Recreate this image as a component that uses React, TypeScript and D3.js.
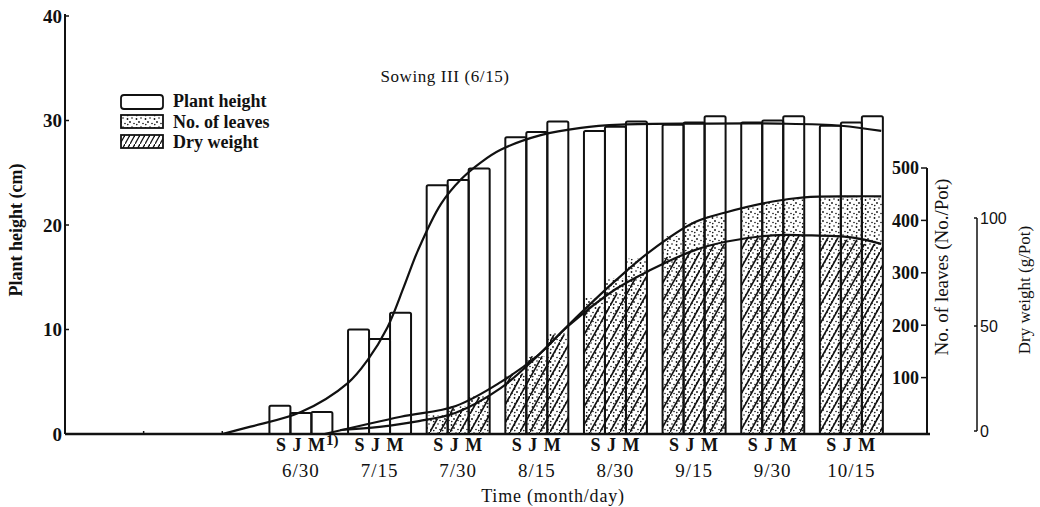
import React from 'react';
import * as d3 from 'd3';

const dates = ['6/30', '7/15', '7/30', '8/15', '8/30', '9/15', '9/30', '10/15'];
const cultivars = ['S', 'J', 'M'];

// plant height (cm) per cultivar, one value per date
const heightS = [2.7, 10.0, 23.8, 28.4, 29.0, 29.6, 29.8, 29.5];
const heightJ = [2.0, 9.1, 24.3, 28.9, 29.4, 29.8, 30.0, 29.8];
const heightM = [2.1, 11.6, 25.4, 29.9, 29.9, 30.4, 30.4, 30.4];

// no. of leaves (No./Pot)
const leavesS = [0, 0, 28, 105, 252, 370, 425, 446];
const leavesJ = [0, 0, 45, 140, 290, 396, 434, 447];
const leavesM = [0, 0, 66, 185, 327, 408, 440, 446];

// dry weight (g/Pot)
const dryS = [0, 0, 7, 28, 59, 82, 91, 91];
const dryJ = [0, 0, 12, 36, 65, 85, 92, 90];
const dryM = [0, 0, 17, 46, 73, 88, 92, 88];

// fitted curves; t counts sampling periods from 6/30 (-1 = sowing 6/15)
const heightFitT = [-1, -0.64, 0, 0.6, 0.85, 1.1, 1.31, 1.49, 1.78, 2.04, 2.29, 2.54, 3.05, 3.56, 4.07, 5.09, 6.1, 6.87, 7.38];
const heightFitV = [0, 0.7, 2.1, 4.9, 7.1, 10.2, 14.1, 17.6, 22.0, 24.4, 26.0, 27.2, 28.6, 29.3, 29.6, 29.7, 29.7, 29.5, 29.0];
const leavesFitT = [0.5, 1.0, 1.5, 1.97, 2.54, 3.0, 3.4, 4.0, 4.45, 5.0, 5.4, 6.0, 6.4, 7.0, 7.38];
const leavesFitV = [0, 6, 17, 33, 80, 140, 200, 285, 342, 396, 415, 436, 444, 446, 446];
const dryFitT = [0.3, 1.27, 1.97, 2.54, 3.0, 3.4, 4.0, 4.45, 5.0, 5.4, 6.0, 6.4, 7.0, 7.38];
const dryFitV = [0, 8, 13, 24, 36, 50, 67, 76, 85, 89, 92, 92, 91, 88];

const yTicks = [0, 10, 20, 30, 40];
const leafTicks = [100, 200, 300, 400, 500];
const dryTicks = [0, 50, 100];

const W = 1040;
const H = 507;
const serif = '"Liberation Serif", "DejaVu Serif", serif';
const sans = '"Liberation Sans Narrow", "Liberation Sans", Arial, sans-serif';

export default function App() {
  const x = d3.scaleLinear().domain([-3, 8]).range([65, 930]);
  const yH = d3.scaleLinear().domain([0, 40]).range([434, 16]);
  const yL = d3.scaleLinear().domain([0, 500]).range([430, 168]);
  const yD = d3.scaleLinear().domain([0, 100]).range([434, 218]);
  const sub = d3.scaleBand().domain(cultivars).range([-31.5, 31.5]);
  const bw = sub.bandwidth();
  const base = 434;

  const heights = [heightS, heightJ, heightM];
  const leaves = [leavesS, leavesJ, leavesM];
  const drys = [dryS, dryJ, dryM];

  const bars: { x: number; h: number; l: number; d: number }[] = [];
  dates.forEach((_, gi) => {
    cultivars.forEach((c, ci) => {
      bars.push({ x: x(gi) + (sub(c) as number), h: heights[ci][gi], l: leaves[ci][gi], d: drys[ci][gi] });
    });
  });

  const mkLine = (T: number[], y: d3.ScaleLinear<number, number>) =>
    d3.line<number>()
      .x((_, i) => x(T[i]))
      .y(d => y(d))
      .curve(d3.curveCatmullRom.alpha(0.5));

  return (
    <svg width={W} height={H} style={{ position: 'absolute', left: 0, top: 0, background: '#fff' }}>
      <defs>
        <pattern id="dots" patternUnits="userSpaceOnUse" width="9" height="9">
          <circle cx="1.5" cy="2" r="0.9" fill="#111" />
          <circle cx="6" cy="1" r="0.8" fill="#111" />
          <circle cx="4" cy="5" r="0.9" fill="#111" />
          <circle cx="8" cy="6.5" r="0.8" fill="#111" />
          <circle cx="1.8" cy="7.6" r="0.8" fill="#111" />
        </pattern>
        <pattern id="hatch" patternUnits="userSpaceOnUse" width="10" height="18">
          <path d="M-1,19.8 L11,-1.8" stroke="#111" strokeWidth="1.6" />
        </pattern>
        <pattern id="hatchSmall" patternUnits="userSpaceOnUse" width="5" height="9">
          <path d="M-0.5,9.9 L5.5,-0.9" stroke="#111" strokeWidth="1.3" />
        </pattern>
      </defs>

      {/* bars */}
      <g>
        {bars.map((b, i) => (
          <rect key={'h' + i} x={b.x} y={yH(b.h)} width={bw} height={base - yH(b.h)} fill="#fff" />
        ))}
        {bars.filter(b => b.l > 0).map((b, i) => (
          <rect key={'l' + i} x={b.x} y={yL(b.l)} width={bw} height={base - yL(b.l)} fill="url(#dots)" />
        ))}
        {bars.filter(b => b.d > 0).map((b, i) => (
          <rect key={'d' + i} x={b.x} y={yD(b.d)} width={bw} height={base - yD(b.d)} fill="url(#hatch)" />
        ))}
        {bars.map((b, i) => (
          <rect key={'o' + i} x={b.x} y={yH(b.h)} width={bw} height={base - yH(b.h)} rx={1.5}
            fill="none" stroke="#111" strokeWidth={2} />
        ))}
      </g>

      {/* fitted curves */}
      <g fill="none" stroke="#111" strokeWidth={2.2}>
        <path d={mkLine(heightFitT, yH)(heightFitV) || ''} />
        <path d={mkLine(leavesFitT, yL)(leavesFitV) || ''} />
        <path d={mkLine(dryFitT, yD)(dryFitV) || ''} />
      </g>

      {/* left axis */}
      <g fontFamily={serif} fontWeight="bold" fontSize={19} fill="#111">
        <line x1={65} x2={65} y1={yH(40) - 2} y2={base} stroke="#111" strokeWidth={2} />
        {yTicks.map(t => (
          <g key={t}>
            <line x1={65} x2={69} y1={yH(t)} y2={yH(t)} stroke="#111" strokeWidth={1.5} />
            <text x={62} y={yH(t)} dy="0.35em" textAnchor="end">{t}</text>
          </g>
        ))}
        <text transform={`translate(22,230) rotate(-90)`} textAnchor="middle" fontSize={18}>
          Plant height (cm)
        </text>
      </g>

      {/* baseline */}
      <line x1={65} x2={930} y1={base} y2={base} stroke="#111" strokeWidth={2.5} />
      {[-2, -1].map(t => (
        <line key={t} x1={x(t)} x2={x(t)} y1={base} y2={base - 3} stroke="#111" strokeWidth={1.5} />
      ))}

      {/* x labels */}
      <g fontFamily={serif} fill="#111">
        {dates.map((d, gi) => (
          <g key={d}>
            <text x={x(gi)} y={451} textAnchor="middle" fontWeight="bold" fontSize={18} letterSpacing={1}>
              {cultivars.join(' ')}
            </text>
            <text x={x(gi)} y={477} textAnchor="middle" fontSize={19} letterSpacing={1}>{d}</text>
          </g>
        ))}
        <text x={x(0) + 25} y={445} fontSize={15} fontWeight="bold">1)</text>
        <text x={553} y={502} textAnchor="middle" fontSize={18} letterSpacing={0.8}>Time (month/day)</text>
      </g>

      {/* leaves axis */}
      <g fontFamily={serif} fill="#111">
        <line x1={927} x2={927} y1={yL(500)} y2={base} stroke="#111" strokeWidth={2} />
        {leafTicks.map(t => (
          <g key={t}>
            <line x1={921} x2={927} y1={yL(t)} y2={yL(t)} stroke="#111" strokeWidth={1.5} />
            <text x={919} y={yL(t)} dy="0.35em" textAnchor="end" fontWeight="bold" fontSize={18}>{t}</text>
          </g>
        ))}
        <text transform={`translate(948,267) rotate(-90)`} textAnchor="middle" fontSize={19}>
          No. of leaves (No./Pot)
        </text>
      </g>

      {/* dry weight axis */}
      <g fill="#111">
        <line x1={977} x2={977} y1={yD(100)} y2={yD(0) - 3} stroke="#111" strokeWidth={1.5} />
        {dryTicks.map(t => (
          <g key={t}>
            <line x1={974} x2={977} y1={yD(t) - (t === 0 ? 3 : 0)} y2={yD(t) - (t === 0 ? 3 : 0)} stroke="#111" strokeWidth={1.5} />
            <text x={980} y={yD(t) - (t === 0 ? 3 : 0)} dy="0.35em" fontFamily={sans} fontSize={16}>{t}</text>
          </g>
        ))}
        <text transform={`translate(1030,290) rotate(-90)`} textAnchor="middle"
          fontFamily={serif} fontSize={17}>
          Dry weight (g/Pot)
        </text>
      </g>

      {/* title */}
      <text x={445} y={82} textAnchor="middle" fontFamily={serif} fontSize={17} letterSpacing={0.6} fill="#111">Sowing III (6/15)</text>

      {/* legend */}
      <g fontFamily={serif} fontWeight="bold" fontSize={18} fill="#111">
        <rect x={121} y={95} width={42} height={14} rx={3} fill="#fff" stroke="#111" strokeWidth={1.8} />
        <text x={173} y={107}>Plant height</text>
        <rect x={121} y={115} width={42} height={13} fill="url(#dots)" stroke="#111" strokeWidth={1.8} />
        <text x={173} y={128}>No. of leaves</text>
        <rect x={121} y={135} width={42} height={13} fill="url(#hatchSmall)" stroke="#111" strokeWidth={1.8} />
        <text x={173} y={148}>Dry weight</text>
      </g>
    </svg>
  );
}
